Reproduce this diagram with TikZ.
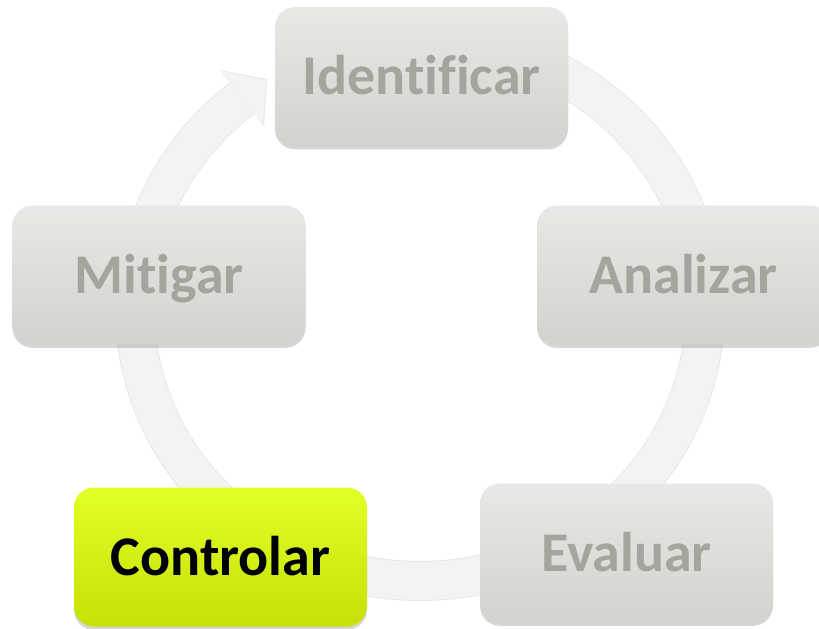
\documentclass[tikz,border=0pt]{standalone}
\usepackage{fontspec}
\setmainfont[Ligatures=NoCommon]{Carlito}
\usetikzlibrary{shadows}
\definecolor{boxtop}{HTML}{E8E8E6}
\definecolor{boxbot}{HTML}{D2D2CE}
\definecolor{boxtext}{HTML}{A6A59D}
\definecolor{ringc}{HTML}{F3F3F2}
\definecolor{ringedge}{HTML}{E8E8E7}
\definecolor{ctop}{HTML}{E2FF26}
\definecolor{cbot}{HTML}{C6E008}
\tikzset{
  stagebox/.style={rounded corners=15pt, minimum width=219.75pt, minimum height=104.25pt,
    top color=boxtop, bottom color=boxbot, text=boxtext,
    font=\bfseries\fontsize{42}{50}\selectfont, text height=27pt, text depth=0pt, inner sep=0pt,
    drop shadow={shadow xshift=0pt, shadow yshift=-2.5pt, opacity=0.16, fill=black}},
  activebox/.style={stagebox, top color=ctop, bottom color=cbot, text=black},
  ringband/.style={ringc, line width=28.5pt},
  ringshade/.style={ringedge, line width=30pt}
}
\begin{document}
\begin{tikzpicture}[x=0.75pt,y=-0.75pt]
\useasboundingbox (0,0) rectangle (819,629);
\clip (0,0) rectangle (819,629);
\fill[white] (0,0) rectangle (819,629);
% circular arrow
\draw[ringshade] plot[domain=-231.3:90, samples=160, smooth] ({420+285*cos(\x)},{310-271*sin(\x)});
\fill[ringedge] (220,70) -- (267,79) -- (264,126.5) -- cycle;
\draw[ringband] plot[domain=-231.3:90, samples=160, smooth] ({420+285*cos(\x)},{310-271*sin(\x)});
\fill[ringc] (221,71) -- (266,80) -- (263,125) -- cycle;
% stages
\node[stagebox] (ident) at (421.5,76.5) {Identificar};
\node[stagebox] (mitig) at (159,275) {Mitigar};
\node[stagebox] (anal) at (683.5,275) {Analizar};
\node[stagebox] (eval) at (626.5,553) {Evaluar};
\node[activebox] (contr) at (220.5,557) {Controlar};
\end{tikzpicture}
\end{document}
